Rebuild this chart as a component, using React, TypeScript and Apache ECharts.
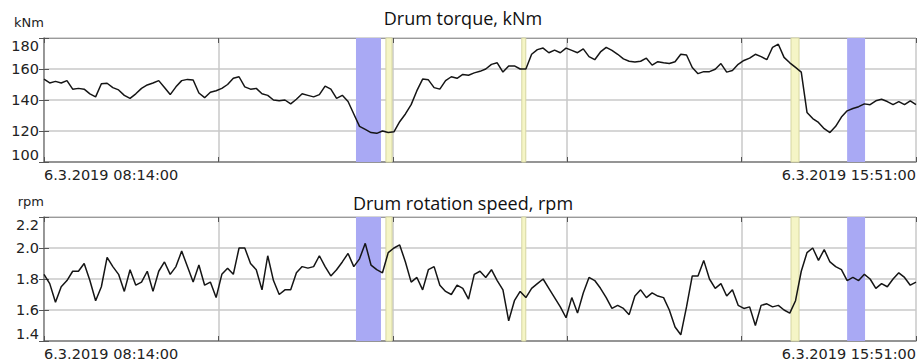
import React, { useEffect, useRef } from "react";
import * as echarts from "echarts";

const START_LABEL = "6.3.2019 08:14:00";
const END_LABEL = "6.3.2019 15:51:00";
const SPAN_SECONDS = 27420; // 08:14:00 -> 15:51:00
const GRID_STEP_SECONDS = 5484; // five equal divisions

const torqueTitle = "Drum torque, kNm";
const speedTitle = "Drum rotation speed, rpm";

const torqueValues = [
  153.4, 151, 152, 151, 152.5, 147, 147.5, 147, 144, 142,
  150.5, 150.8, 148, 146.5, 143, 141, 144, 147.5, 149.7, 151,
  152.5, 148, 143.5, 148.5, 152.5, 153.3, 152.9, 144.5, 141.5, 145,
  146, 147.5, 150, 154, 155, 148.5, 147, 147.5, 144, 143,
  140, 139.5, 140, 137.5, 140.5, 144, 143, 142, 143.5, 149,
  147, 141, 143, 139, 131, 123, 121, 119, 118.5, 120,
  119, 119.5, 126, 131, 137, 146, 153.5, 153, 148, 147,
  152.5, 155, 154, 156.5, 156, 157.5, 158.5, 160, 163, 164,
  158, 162, 162, 160, 160, 169.5, 172.5, 173.5, 170.5, 172.2,
  170.5, 173.5, 172, 170.5, 173, 168, 166, 171, 174, 172,
  169.5, 166.5, 165, 164.5, 165, 167, 162.5, 164.7, 164, 163.5,
  164.7, 169.5, 169, 161, 157, 158.3, 158.3, 159.8, 163.5, 158,
  159, 163, 165.5, 167, 169.5, 168, 166, 174, 176, 167.5,
  164, 161, 158, 132, 128, 125.5, 121.5, 119, 123, 129,
  133, 134.5, 135.7, 137.5, 137, 139.5, 140.5, 139, 137, 139,
  137, 139.5, 137,
];

const speedValues = [
  1.83, 1.77, 1.65, 1.75, 1.79, 1.85, 1.85, 1.9, 1.79, 1.66,
  1.75, 1.94, 1.88, 1.83, 1.72, 1.86, 1.76, 1.78, 1.85, 1.72,
  1.85, 1.91, 1.83, 1.88, 1.98, 1.88, 1.78, 1.89, 1.76, 1.78,
  1.68, 1.83, 1.87, 1.83, 2.0, 2.0, 1.9, 1.86, 1.73, 1.95,
  1.79, 1.7, 1.73, 1.73, 1.84, 1.88, 1.87, 1.88, 1.95, 1.88,
  1.82, 1.86, 1.91, 1.965, 1.88, 1.93, 2.03, 1.89, 1.86, 1.84,
  1.97, 2.0, 2.02, 1.91, 1.78, 1.81, 1.73, 1.86, 1.88, 1.76,
  1.72, 1.7, 1.76, 1.74, 1.67, 1.83, 1.85, 1.81, 1.86, 1.79,
  1.73, 1.53, 1.66, 1.72, 1.68, 1.74, 1.77, 1.8, 1.74, 1.68,
  1.62, 1.55, 1.68, 1.58, 1.71, 1.81, 1.79, 1.74, 1.68, 1.61,
  1.63, 1.61, 1.57, 1.69, 1.73, 1.68, 1.71, 1.69, 1.68, 1.6,
  1.49, 1.44, 1.62, 1.82, 1.82, 1.92, 1.8, 1.74, 1.77, 1.69,
  1.73, 1.63, 1.61, 1.62, 1.5, 1.63, 1.64, 1.62, 1.63, 1.6,
  1.58, 1.66, 1.85, 1.97, 2.0, 1.92, 1.99, 1.91, 1.88, 1.86,
  1.79, 1.81, 1.79, 1.83, 1.8, 1.74, 1.77, 1.75, 1.8, 1.84,
  1.81, 1.76, 1.78,
];

// shaded periods, minutes after 08:14:00
const blueBands = [
  [163.5, 176.6],
  [420.9, 430.3],
];
const yellowBands = [
  [179.2, 182.4],
  [250.4, 252.5],
  [391.5, 395.7],
];

const torqueAxis = { min: 100, max: 180, interval: 20, unit: "kNm" };
const speedAxis = { min: 1.4, max: 2.2, interval: 0.2, unit: "rpm" };

const LABEL_FONT = "DejaVu Sans";
const TITLE_FONT = "Open Sans";

export default function App() {
  const ref = useRef<HTMLDivElement>(null);

  useEffect(() => {
    if (!ref.current) return;
    const chart = echarts.init(ref.current, null, { renderer: "svg" });

    const n = torqueValues.length;
    const times = torqueValues.map((_, i) => (i * SPAN_SECONDS) / (n - 1));
    const torqueData = times.map((t, i) => [t, torqueValues[i]]);
    const speedData = times.map((t, i) => [t, speedValues[i]]);

    const bands = [
      ...blueBands.map(([s, e]) => [
        { xAxis: s * 60, itemStyle: { color: "#a9a9f4" } },
        { xAxis: e * 60 },
      ]),
      ...yellowBands.map(([s, e]) => [
        {
          xAxis: s * 60,
          itemStyle: { color: "#f5f5c6", borderColor: "#d6d6a2", borderWidth: 1 },
        },
        { xAxis: e * 60 },
      ]),
    ];

    const gridTop = [38, 217];

    const xAxes: any[] = [];
    const yAxes: any[] = [];
    [0, 1].forEach((g) => {
      xAxes.push({
        type: "value",
        gridIndex: g,
        position: "bottom",
        min: 0,
        max: SPAN_SECONDS,
        interval: GRID_STEP_SECONDS,
        axisLine: { show: true, lineStyle: { color: "#7f7f7f", width: 1.5 } },
        axisTick: { show: true, inside: true, length: 5, lineStyle: { color: "#555" } },
        splitLine: { show: true, lineStyle: { color: "#c9c9c9", width: 1.5 } },
        axisLabel: {
          show: true,
          margin: 5,
          color: "#222",
          fontFamily: LABEL_FONT,
          fontSize: 14.5,
          showMinLabel: true,
          showMaxLabel: true,
          alignMinLabel: "left",
          alignMaxLabel: "right",
          formatter: (v: number) =>
            v === 0 ? START_LABEL : v === SPAN_SECONDS ? END_LABEL : "",
        },
      });
      xAxes.push({
        type: "value",
        gridIndex: g,
        position: "top",
        min: 0,
        max: SPAN_SECONDS,
        interval: GRID_STEP_SECONDS,
        axisLine: { show: true, lineStyle: { color: "#9a9a9a", width: 1 } },
        axisTick: { show: true, inside: true, length: 5, lineStyle: { color: "#555" } },
        splitLine: { show: false },
        axisLabel: { show: false },
      });
      const ax = g === 0 ? torqueAxis : speedAxis;
      yAxes.push({
        type: "value",
        gridIndex: g,
        position: "left",
        min: ax.min,
        max: ax.max,
        interval: ax.interval,
        name: ax.unit,
        nameLocation: "end",
        nameGap: 9,
        nameTextStyle: {
          fontFamily: LABEL_FONT,
          fontSize: 13,
          color: "#222",
          align: "right",
        },
        axisLine: { show: true, lineStyle: { color: "#7f7f7f", width: 1.5 } },
        axisTick: { show: true, inside: true, length: 5, lineStyle: { color: "#555" } },
        splitLine: { show: true, lineStyle: { color: "#c9c9c9", width: 1.5 } },
        axisLabel: {
          margin: 5,
          color: "#222",
          fontFamily: LABEL_FONT,
          fontSize: 14.5,
          verticalAlignMinLabel: "bottom",
          verticalAlignMaxLabel: "top",
          formatter: (v: number) => (g === 0 ? String(Math.round(v)) : v.toFixed(1)),
        },
      });
      yAxes.push({
        type: "value",
        gridIndex: g,
        position: "right",
        min: ax.min,
        max: ax.max,
        interval: ax.interval,
        axisLine: { show: true, lineStyle: { color: "#9a9a9a", width: 1 } },
        axisTick: { show: true, inside: true, length: 5, lineStyle: { color: "#555" } },
        splitLine: { show: false },
        axisLabel: { show: false },
      });
    });

    const lineSeries = (g: number, data: number[][]) => ({
      type: "line",
      xAxisIndex: g * 2,
      yAxisIndex: g * 2,
      data,
      showSymbol: false,
      symbol: "none",
      lineStyle: { color: "#151515", width: 1.5 },
      z: 3,
      markArea: { silent: true, data: bands },
    });

    chart.setOption({
      animation: false,
      backgroundColor: "#ffffff",
      title: [
        {
          text: torqueTitle,
          left: 463,
          top: 9,
          textAlign: "center",
          padding: 0,
          textStyle: { fontFamily: TITLE_FONT, fontSize: 18, fontWeight: "normal", color: "#111" },
        },
        {
          text: speedTitle,
          left: 463,
          top: 194,
          textAlign: "center",
          padding: 0,
          textStyle: { fontFamily: TITLE_FONT, fontSize: 18, fontWeight: "normal", color: "#111" },
        },
      ],
      grid: gridTop.map((top) => ({
        left: 44,
        top,
        width: 872,
        height: 124,
        containLabel: false,
      })),
      xAxis: xAxes,
      yAxis: yAxes,
      series: [lineSeries(0, torqueData), lineSeries(1, speedData)],
    });

    return () => chart.dispose();
  }, []);

  return (
    <div
      ref={ref}
      style={{ position: "fixed", left: 0, top: 0, width: 919, height: 361, background: "#fff" }}
    />
  );
}
